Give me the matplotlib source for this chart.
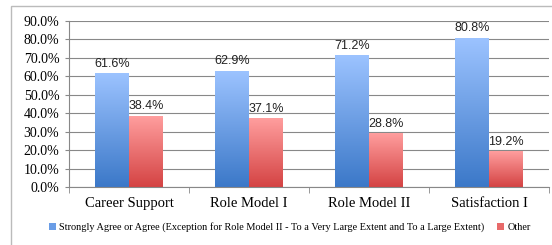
import numpy as np
import matplotlib.pyplot as plt
from matplotlib.colors import LinearSegmentedColormap
from matplotlib.patches import Patch, Rectangle

categories = ['Career Support', 'Role Model I', 'Role Model II', 'Satisfaction I']
agree = [61.6, 62.9, 71.2, 80.8]
other = [38.4, 37.1, 28.8, 19.2]
series_names = ['Strongly Agree or Agree (Exception for Role Model II - To a Very Large Extent and To a Large Extent)',
                'Other']

blue_cm = LinearSegmentedColormap.from_list('b', ['#3b78c8', '#9cc3ff'])
red_cm = LinearSegmentedColormap.from_list('r', ['#d44343', '#ff9e9e'])

plt.rcParams['font.family'] = ['Liberation Serif', 'DejaVu Serif']

fig = plt.figure(figsize=(5.52, 2.45), dpi=100)
ax = fig.add_axes([0.125, 0.237, 0.87, 0.677])

grad = np.linspace(0, 1, 256).reshape(-1, 1)
w = 0.283
x = np.arange(len(categories))
for i in range(len(categories)):
    for val, off, cm in [(agree[i], -w / 2, blue_cm), (other[i], w / 2, red_cm)]:
        ax.imshow(grad, cmap=cm, origin='lower', aspect='auto', interpolation='bilinear',
                  extent=(x[i] + off - w / 2, x[i] + off + w / 2, 0, val), zorder=2)
        ax.text(x[i] + off, val + 2, f'{val:.1f}%', ha='center', va='bottom',
                fontsize=9, family=['Liberation Sans', 'DejaVu Sans'], color='#222222')

ax.set_xlim(-0.5, len(categories) - 0.5)
ax.set_ylim(0, 90)
ax.set_yticks(np.arange(0, 91, 10))
ax.set_yticklabels([f'{v:.1f}%' for v in range(0, 91, 10)], fontsize=10)
ax.set_xticks(x)
ax.set_xticklabels(categories, fontsize=10.5)
ax.set_xticks(np.arange(-0.5, len(categories), 1), minor=True)
ax.tick_params(axis='x', which='major', length=0, pad=7)
ax.tick_params(axis='x', which='minor', length=4, color='#888888')
ax.tick_params(axis='y', length=3, color='#888888', pad=4)
ax.grid(axis='y', color='#888888', linewidth=0.8, zorder=0)
ax.set_axisbelow(True)
for s in ['top', 'right']:
    ax.spines[s].set_visible(False)
for s in ['left', 'bottom']:
    ax.spines[s].set_color('#888888')

handles = [Patch(facecolor='#6a9de6'), Patch(facecolor='#e86a6a')]
fig.legend(handles, series_names, loc='center', bbox_to_anchor=(0.525, 0.072), ncol=2,
           frameon=False, fontsize=7.35, handlelength=0.7, handleheight=0.7,
           handletextpad=0.3, columnspacing=1.2)

fig.patches.append(Rectangle((0.02, -0.1), 1.1, 1.075, transform=fig.transFigure,
                             fill=False, edgecolor='#bbbbbb', linewidth=1))

fig.savefig('out.png', dpi=100)
